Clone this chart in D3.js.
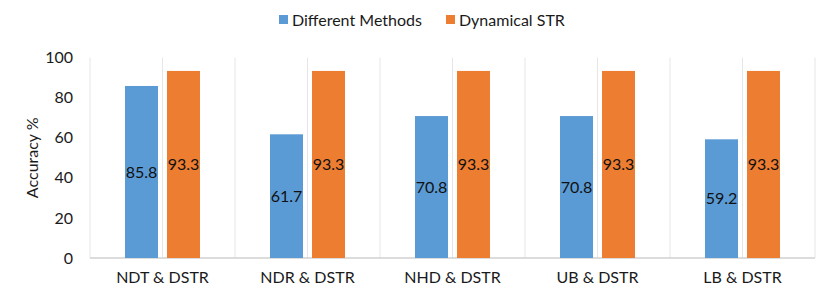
<!DOCTYPE html>
<html>
<head>
<meta charset="utf-8">
<script src="https://cdn.jsdelivr.net/npm/d3@7"></script>
<style>
  body { margin: 0; background: #fff; }
  svg text { font-family: Lato, "Open Sans", sans-serif; }
</style>
</head>
<body>
<script>
var categories = ["NDT & DSTR", "NDR & DSTR", "NHD & DSTR", "UB & DSTR", "LB & DSTR"];
var seriesNames = ["Different Methods", "Dynamical STR"];
var differentMethods = [85.8, 61.7, 70.8, 70.8, 59.2];
var dynamicalSTR = [93.3, 93.3, 93.3, 93.3, 93.3];
var yTicks = [0, 20, 40, 60, 80, 100];
var colors = ["#5b9bd5", "#ed7d31"];

var width = 830, height = 293;
var margin = {top: 57.5, right: 15, bottom: 35, left: 90};
var innerW = width - margin.left - margin.right;
var innerH = height - margin.top - margin.bottom;

var svg = d3.select("body").append("svg")
    .attr("width", width)
    .attr("height", height);

var g = svg.append("g")
    .attr("transform", "translate(" + margin.left + "," + margin.top + ")");

// scales
var x = d3.scaleBand().domain(categories).range([0, innerW]);
var y = d3.scaleLinear().domain([0, 100]).range([innerH, 0]);

// vertical grid lines: each category edge and its middle
var gridPos = [];
categories.forEach(function(c){
  gridPos.push(x(c));
  gridPos.push(x(c) + x.bandwidth() / 2);
});
gridPos.push(innerW);
g.selectAll(".vgrid").data(gridPos).enter().append("line")
    .attr("x1", d => d).attr("x2", d => d)
    .attr("y1", 0).attr("y2", innerH)
    .attr("stroke", "#e6e6e6").attr("stroke-width", 1);

// x axis line
g.append("line")
    .attr("x1", 0).attr("x2", innerW)
    .attr("y1", innerH).attr("y2", innerH)
    .attr("stroke", "#d0d0d0").attr("stroke-width", 1.5);

// y axis ticks
var yAxis = g.append("g").call(d3.axisLeft(y).tickValues(yTicks).tickSize(0).tickPadding(17));
yAxis.select(".domain").remove();
yAxis.selectAll("text").attr("font-size", 16).attr("fill", "#1a1a1a")
    .style("font-family", "Lato, sans-serif");

// x axis labels
var xAxis = g.append("g").attr("transform", "translate(0," + innerH + ")")
    .call(d3.axisBottom(x).tickSize(0).tickPadding(14));
xAxis.select(".domain").remove();
xAxis.selectAll("text").attr("font-size", 16).attr("fill", "#1a1a1a")
    .style("font-family", "Lato, sans-serif");

// y title
svg.append("text")
    .attr("transform", "translate(38," + (margin.top + innerH / 2) + ") rotate(-90)")
    .attr("text-anchor", "middle")
    .attr("font-size", 16).attr("fill", "#1a1a1a")
    .text("Accuracy %");

// bars
var barW = 33, gap = 4.5;
var series = [differentMethods, dynamicalSTR];
series.forEach(function(vals, si){
  var bx = function(i){
    var mid = x(categories[i]) + x.bandwidth() / 2;
    return si === 0 ? mid - gap - barW : mid + gap;
  };
  g.selectAll(".bar" + si).data(vals).enter().append("rect")
      .attr("x", (d, i) => bx(i))
      .attr("y", d => y(d))
      .attr("width", barW)
      .attr("height", d => innerH - y(d))
      .attr("fill", colors[si]);
  g.selectAll(".lab" + si).data(vals).enter().append("text")
      .attr("x", (d, i) => bx(i) + barW / 2)
      .attr("y", d => (y(d) + innerH) / 2)
      .attr("dy", "0.35em")
      .attr("text-anchor", "middle")
      .attr("font-size", 16).attr("fill", "#111")
      .text(d => d.toFixed(1));
});

// legend
var legendX = [279, 446];
var leg = svg.append("g");
seriesNames.forEach(function(name, i){
  leg.append("rect").attr("x", legendX[i]).attr("y", 15).attr("width", 9).attr("height", 9).attr("fill", colors[i]);
  leg.append("text").attr("x", legendX[i] + 13).attr("y", 20).attr("dy", "0.35em")
      .attr("font-size", 16).attr("fill", "#1a1a1a").text(name);
});
</script>
</body>
</html>
